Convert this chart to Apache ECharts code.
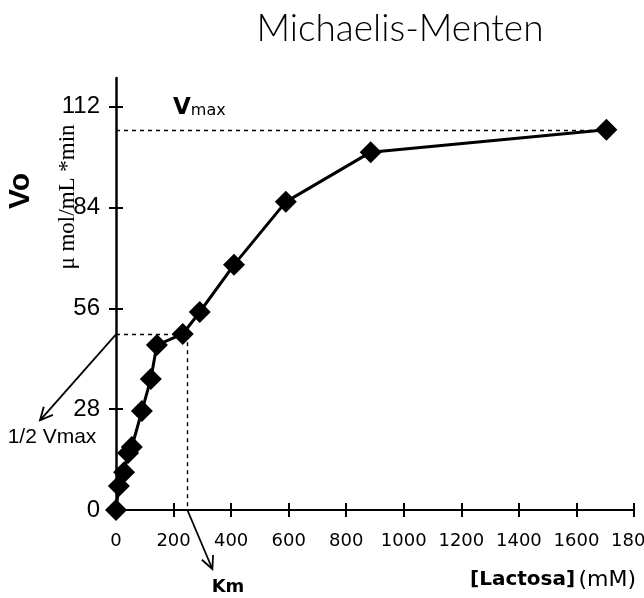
<!DOCTYPE html>
<html>
<head>
<meta charset="utf-8">
<script src="https://cdn.jsdelivr.net/npm/echarts@6/dist/echarts.min.js"></script>
<style>html,body{margin:0;padding:0;background:#fff}#c{width:644px;height:598px}</style>
</head>
<body>
<div id="c"></div>
<script>
// ---- data ----
const lactosa = [0, 10, 28, 42, 55, 90, 121, 142, 232, 291, 410, 590, 885, 1704];
const vo      = [0, 6.7, 10.5, 15.8, 17.5, 27.5, 36.4, 45.8, 48.9, 55.0, 68.1, 85.6, 99.4, 105.6];
const xTicks  = [0, 200, 400, 600, 800, 1000, 1200, 1400, 1600, 1800];
const yTicks  = [0, 28, 56, 84, 112];
const vmax = 105.6;
const halfVmax = 48.8;
const km = 248;

const chart = echarts.init(document.getElementById('c'), null, {renderer: 'canvas'});
const black = '#000';

function xAxisDef(inside) {
  return {
    type: 'value', position: 'bottom', min: 0, max: 1800, interval: 200,
    axisLine: {show: !inside, onZero: false, lineStyle: {color: black, width: 2}},
    axisTick: {show: true, inside: inside, length: 7, customValues: xTicks, lineStyle: {color: black, width: 2}},
    axisLabel: {show: !inside, customValues: xTicks, formatter: v => String(v), hideOverlap: false,
      color: black, fontFamily: 'DejaVu Sans', fontSize: 18, margin: 22},
    splitLine: {show: false}
  };
}
function yAxisDef(inside) {
  return {
    type: 'value', position: 'left', min: 0, max: 120,
    axisLine: {show: !inside, onZero: false, lineStyle: {color: black, width: 2.5}},
    axisTick: {show: true, inside: inside, length: 7, customValues: yTicks, lineStyle: {color: black, width: 2}},
    axisLabel: {show: !inside, customValues: yTicks, formatter: v => String(v),
      color: black, fontFamily: 'Liberation Sans, Arial, sans-serif', fontSize: 24, margin: 16},
    splitLine: {show: false}
  };
}

chart.setOption({
  animation: false,
  grid: {left: 116, top: 78, width: 518, height: 432, outerBoundsMode: 'none', containLabel: false},
  xAxis: [xAxisDef(false), xAxisDef(true)],
  yAxis: [yAxisDef(false), yAxisDef(true)],
  series: [{
    type: 'line',
    xAxisIndex: 0, yAxisIndex: 0,
    data: lactosa.map((x, i) => [x, vo[i]]),
    symbol: 'diamond', symbolSize: 22,
    itemStyle: {color: black},
    lineStyle: {color: black, width: 3},
    z: 5,
    markLine: {
      silent: true, symbol: 'none', animation: false,
      label: {show: false},
      lineStyle: {type: [4, 4], color: black, width: 1.4},
      data: [
        [{coord: [0, vmax]}, {coord: [lactosa[lactosa.length - 1], vmax]}],
        [{coord: [0, halfVmax]}, {coord: [km, halfVmax]}],
        [{coord: [km, halfVmax]}, {coord: [km, 0]}]
      ]
    }
  }]
});

function arrow(start, end) {
  const dx = end[0] - start[0], dy = end[1] - start[1];
  const len = Math.sqrt(dx * dx + dy * dy);
  const ux = dx / len, uy = dy / len;
  const h = 14, a = 0.45;
  const w1 = [end[0] - h * (ux * Math.cos(a) - uy * Math.sin(a)), end[1] - h * (uy * Math.cos(a) + ux * Math.sin(a))];
  const w2 = [end[0] - h * (ux * Math.cos(-a) - uy * Math.sin(-a)), end[1] - h * (uy * Math.cos(-a) + ux * Math.sin(-a))];
  return [
    {type: 'line', shape: {x1: start[0], y1: start[1], x2: end[0], y2: end[1]}, style: {stroke: black, lineWidth: 1.8}},
    {type: 'polyline', shape: {points: [w1, end, w2]}, style: {stroke: black, lineWidth: 1.8, fill: null}}
  ];
}

const ref = {xAxisIndex: 0, yAxisIndex: 0};
const pHalf = chart.convertToPixel(ref, [0, halfVmax]);
const pKm = chart.convertToPixel(ref, [km, 0]);
const pVmax = chart.convertToPixel(ref, [0, vmax]);

const graphics = [].concat(
  arrow(pHalf, [pHalf[0] - 76, pHalf[1] + 86]),
  arrow(pKm, [pKm[0] + 25, pKm[1] + 59]),
  [
    {type: 'text', x: 400, y: 29, style: {text: 'Michaelis-Menten', fill: black, font: '300 37px Lato, "Open Sans", sans-serif', textAlign: 'center', textVerticalAlign: 'middle'}},
    {type: 'text', x: 21, y: 191, rotation: Math.PI / 2, style: {text: 'Vo', fill: black, font: 'bold 30px "Liberation Sans", Arial, sans-serif', textAlign: 'center', textVerticalAlign: 'middle'}},
    {type: 'text', x: 68, y: 197, rotation: Math.PI / 2, style: {text: 'μ mol/mL *min', fill: black, font: '23px "Liberation Serif", "Times New Roman", serif', textAlign: 'center', textVerticalAlign: 'middle'}},
    {type: 'text', x: 52, y: 437, style: {text: '1/2 Vmax', fill: black, font: '21px "Liberation Sans", Arial, sans-serif', textAlign: 'center', textVerticalAlign: 'middle'}},
    {type: 'text', x: 228, y: 587, style: {text: 'Km', fill: black, font: 'bold 18px "DejaVu Sans", sans-serif', textAlign: 'center', textVerticalAlign: 'middle'}},
    {type: 'text', x: pVmax[0] + 57, y: pVmax[1] - 22, style: {
      text: '{v|V}{s|max}', textVerticalAlign: 'middle',
      rich: {
        v: {fill: black, fontFamily: 'DejaVu Sans', fontWeight: 'bold', fontSize: 23, verticalAlign: 'bottom'},
        s: {fill: black, fontFamily: 'DejaVu Sans', fontSize: 16, verticalAlign: 'bottom'}
      }
    }},
    {type: 'text', x: 636, y: 580, style: {
      text: '{b|[Lactosa]} {n|(mM)}', textAlign: 'right', textVerticalAlign: 'middle',
      rich: {
        b: {fill: black, fontFamily: 'DejaVu Sans', fontWeight: 'bold', fontSize: 20},
        n: {fill: black, fontFamily: 'DejaVu Sans', fontSize: 22}
      }
    }}
  ]
);
chart.setOption({graphic: graphics});
</script>
</body>
</html>
